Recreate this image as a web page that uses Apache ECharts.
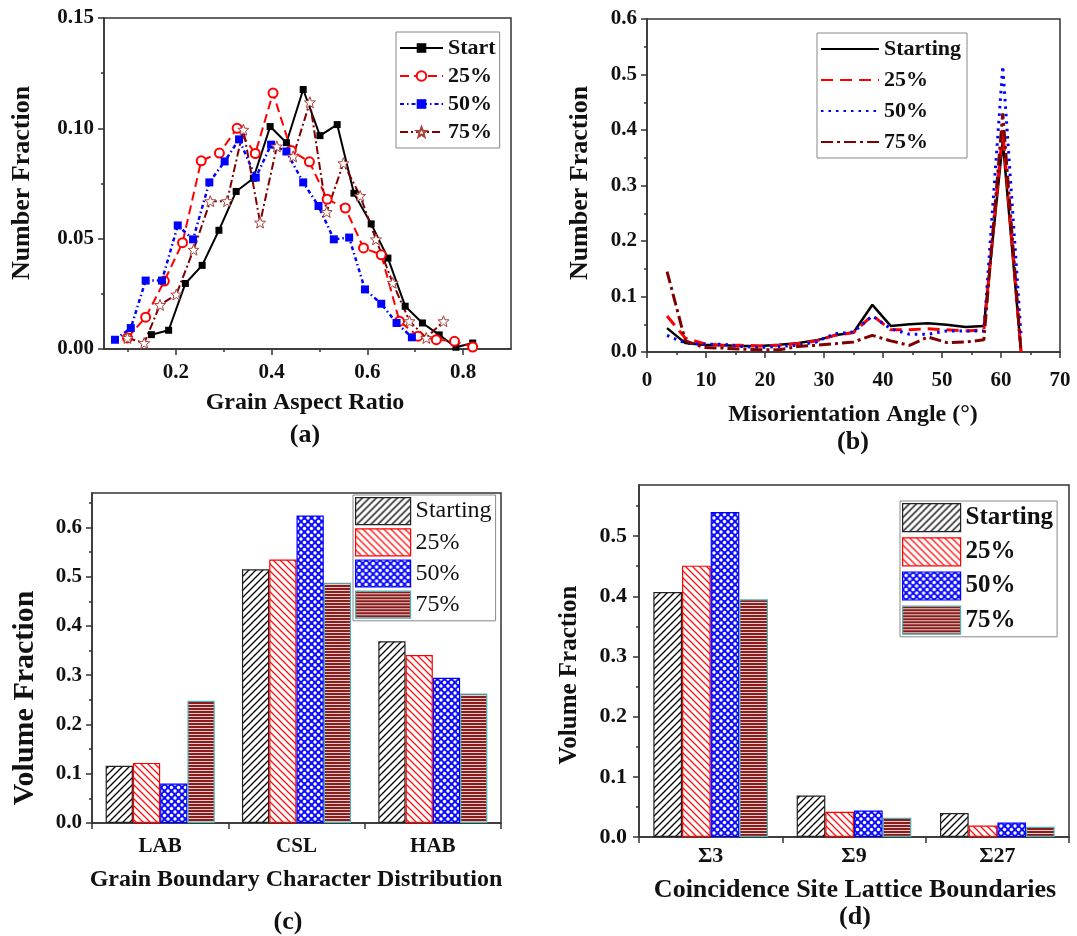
<!DOCTYPE html>
<html>
<head>
<meta charset="utf-8">
<script src="https://cdn.jsdelivr.net/npm/echarts@6/dist/echarts.min.js"></script>
<style>
  html, body { margin: 0; padding: 0; background: #fff; }
  #chart { width: 1077px; height: 936px; }
</style>
</head>
<body>
<div id="chart"></div>
<script>
// (a) grain aspect ratio
const aStartX = [0.149, 0.185, 0.220, 0.255, 0.290, 0.326, 0.362, 0.397, 0.431, 0.466, 0.501, 0.537, 0.572, 0.608, 0.643, 0.679, 0.715, 0.750, 0.785, 0.820]
const aStartY = [0.0065, 0.0085, 0.0297, 0.0379, 0.0538, 0.0714, 0.0774, 0.1008, 0.0935, 0.1176, 0.0967, 0.1017, 0.0706, 0.0567, 0.0412, 0.0194, 0.0118, 0.0064, 0.0008, 0.0027]
const a25X = [0.099, 0.137, 0.176, 0.214, 0.253, 0.291, 0.328, 0.366, 0.403, 0.441, 0.479, 0.516, 0.554, 0.592, 0.629, 0.667, 0.706, 0.744, 0.782, 0.820]
const a25Y = [0.005, 0.0144, 0.0308, 0.0482, 0.0853, 0.0888, 0.100, 0.0886, 0.116, 0.090, 0.0848, 0.0679, 0.0639, 0.0458, 0.0427, 0.0126, 0.0058, 0.0042, 0.0035, 0.0009]
const a50X = [0.073, 0.106, 0.137, 0.171, 0.204, 0.236, 0.270, 0.302, 0.332, 0.367, 0.399, 0.431, 0.466, 0.498, 0.530, 0.562, 0.595, 0.629, 0.661, 0.693]
const a50Y = [0.0042, 0.0095, 0.031, 0.031, 0.056, 0.0497, 0.0755, 0.085, 0.095, 0.0777, 0.0926, 0.0895, 0.0755, 0.0648, 0.0497, 0.0505, 0.027, 0.0205, 0.0118, 0.0053]
const a75X = [0.099, 0.134, 0.167, 0.201, 0.237, 0.272, 0.307, 0.341, 0.376, 0.411, 0.445, 0.480, 0.515, 0.550, 0.585, 0.618, 0.653, 0.688, 0.723, 0.759]
const a75Y = [0.005, 0.0027, 0.020, 0.0247, 0.045, 0.067, 0.067, 0.0994, 0.0573, 0.0918, 0.0873, 0.1118, 0.0621, 0.0842, 0.0694, 0.0497, 0.030, 0.0126, 0.005, 0.0126]

// (b) misorientation angle
const bAngle = [3.4, 6.5, 9.7, 12.9, 16.0, 19.2, 22.4, 25.5, 28.7, 31.8, 35.0, 38.2, 41.3, 44.5, 47.6, 50.8, 54.0, 57.1, 60.3, 63.4]
const bStart = [0.043, 0.016, 0.013, 0.012, 0.011, 0.011, 0.013, 0.016, 0.021, 0.030, 0.035, 0.085, 0.047, 0.050, 0.052, 0.049, 0.045, 0.047, 0.38, 0.0]
const b25 = [0.065, 0.025, 0.015, 0.012, 0.012, 0.011, 0.012, 0.015, 0.020, 0.030, 0.035, 0.066, 0.040, 0.040, 0.042, 0.040, 0.038, 0.040, 0.40, 0.0]
const b50 = [0.030, 0.016, 0.014, 0.014, 0.010, 0.008, 0.010, 0.012, 0.018, 0.033, 0.036, 0.065, 0.042, 0.032, 0.032, 0.038, 0.038, 0.038, 0.515, 0.03]
const b75 = [0.145, 0.020, 0.008, 0.007, 0.005, 0.004, 0.004, 0.010, 0.012, 0.015, 0.018, 0.030, 0.020, 0.012, 0.027, 0.017, 0.018, 0.022, 0.43, 0.0]

// (c) grain boundary character distribution
const cCats = ['LAB', 'CSL', 'HAB']
const cStart = [0.116, 0.515, 0.369]
const c25 = [0.122, 0.535, 0.341]
const c50 = [0.080, 0.6245, 0.295]
const c75 = [0.248, 0.488, 0.263]

// (d) CSL boundaries
const dCats = ['Σ3', 'Σ9', 'Σ27']
const dStart = [0.407, 0.069, 0.040]
const d25 = [0.451, 0.042, 0.019]
const d50 = [0.540, 0.044, 0.024]
const d75 = [0.395, 0.032, 0.017]

const aMajorX = [0.2, 0.4, 0.6, 0.8]
const aMinorX = [0.1, 0.3, 0.5, 0.7]
const aMajorY = [0, 0.05, 0.10, 0.15]
const aMinorY = [0.025, 0.075, 0.125]
const bMajorX = [0, 10, 20, 30, 40, 50, 60, 70]
const bMinorX = [5, 15, 25, 35, 45, 55, 65]
const bMajorY = [0, 0.1, 0.2, 0.3, 0.4, 0.5, 0.6]
const bMinorY = [0.05, 0.15, 0.25, 0.35, 0.45, 0.55]
const cMajorY = [0, 0.1, 0.2, 0.3, 0.4, 0.5, 0.6]
const cMinorY = [0.05, 0.15, 0.25, 0.35, 0.45, 0.55, 0.65]
const dMajorY = [0, 0.1, 0.2, 0.3, 0.4, 0.5]
const dMinorY = [0.05, 0.15, 0.25, 0.35, 0.45, 0.55]

const FONT = '"Liberation Serif", "Times New Roman", serif'
const AX = '#333'

function zip (xs, ys) {
  return xs.map((x, i) => [x, ys[i]])
}

function hatch (kind) {
  const cv = document.createElement('canvas')
  const s = kind === 'stripe' ? 3 : 7
  cv.width = s
  cv.height = s
  const ctx = cv.getContext('2d')
  ctx.fillStyle = '#fff'
  ctx.fillRect(0, 0, s, s)
  if (kind === 'fwd' || kind === 'back') {
    ctx.strokeStyle = kind === 'fwd' ? '#000' : '#ff1010'
    ctx.lineWidth = 1.3
    ctx.beginPath()
    if (kind === 'fwd') {
      ctx.moveTo(-1, s + 1); ctx.lineTo(s + 1, -1)
      ctx.moveTo(-2, 2); ctx.lineTo(2, -2)
      ctx.moveTo(s - 2, s + 2); ctx.lineTo(s + 2, s - 2)
    } else {
      ctx.moveTo(-1, -1); ctx.lineTo(s + 1, s + 1)
      ctx.moveTo(s - 2, -2); ctx.lineTo(s + 2, 2)
      ctx.moveTo(-2, s - 2); ctx.lineTo(2, s + 2)
    }
    ctx.stroke()
  } else if (kind === 'cross') {
    ctx.fillStyle = '#1010ff'
    ctx.fillRect(0, 0, s, s)
    ctx.fillStyle = '#fff'
    const pts = [[0, 0], [s, 0], [0, s], [s, s], [s / 2, s / 2]]
    pts.forEach(p => {
      ctx.beginPath()
      ctx.arc(p[0], p[1], 1.7, 0, Math.PI * 2)
      ctx.fill()
    })
  } else {
    ctx.fillStyle = '#8b1c1c'
    ctx.fillRect(0, 0, s, 2)
    ctx.fillStyle = '#e6cccc'
    ctx.fillRect(0, 2, s, 1)
  }
  return { image: cv, repeat: 'repeat' }
}

const fills = [
  { color: hatch('fwd'), borderColor: '#222' },
  { color: hatch('back'), borderColor: '#ff0000' },
  { color: hatch('cross'), borderColor: '#0000ff' },
  { color: hatch('stripe'), borderColor: '#4fb3b3' }
]

function valueAxes (gi, pos, min, max, major, minor, digits, fontSize, margin) {
  const base = { type: 'value', gridIndex: gi, position: pos, min: min, max: max, splitLine: { show: false } }
  const main = Object.assign({}, base, {
    axisLine: { show: true, onZero: false, lineStyle: { color: AX, width: 1.5 } },
    axisTick: { show: true, length: 6, customValues: major, lineStyle: { color: AX, width: 1.5 } },
    axisLabel: {
      customValues: major,
      formatter: v => v.toFixed(digits),
      fontFamily: FONT,
      fontWeight: 'bold',
      fontSize: fontSize,
      color: '#111',
      margin: margin
    }
  })
  const sub = Object.assign({}, base, {
    axisLine: { show: false, onZero: false },
    axisTick: { show: true, length: 3, customValues: minor, lineStyle: { color: AX, width: 1.5 } },
    axisLabel: { show: false }
  })
  return [main, sub]
}

function catAxis (gi, cats, fontSize, margin) {
  return {
    type: 'category',
    gridIndex: gi,
    position: 'bottom',
    data: cats,
    axisLine: { show: true, onZero: false, lineStyle: { color: AX, width: 1.5 } },
    axisTick: { show: true, length: 6, lineStyle: { color: AX, width: 1.5 } },
    axisLabel: { fontFamily: FONT, fontWeight: 'bold', fontSize: fontSize, color: '#111', margin: margin }
  }
}

const legendNames = {
  aS: 'Start', a25: '25%', a50: '50%', a75: '75%',
  bS: 'Starting', b25: '25%', b50: '50%', b75: '75%',
  cS: 'Starting', c25: '25%', c50: '50%', c75: '75%',
  dS: 'Starting', d25: '25%', d50: '50%', d75: '75%'
}

function barSeries (name, gi, data, k) {
  return {
    name: name,
    type: 'bar',
    xAxisIndex: gi === 2 ? 4 : 5,
    yAxisIndex: gi === 2 ? 4 : 6,
    data: data,
    barGap: '0%',
    barCategoryGap: '20%',
    itemStyle: { color: fills[k].color, borderColor: fills[k].borderColor, borderWidth: 1.2 },
    emphasis: { disabled: true }
  }
}

const star = 'path://M12,1 L14.9,8.6 L23,8.9 L16.7,14 L18.9,21.8 L12,17.3 L5.1,21.8 L7.3,14 L1,8.9 L9.1,8.6 Z'

const chart = echarts.init(document.getElementById('chart'))

const aAxesX = valueAxes(0, 'bottom', 0.05, 0.9, aMajorX, aMinorX, 1, 21, 13)
const aAxesY = valueAxes(0, 'left', 0, 0.15, aMajorY, aMinorY, 2, 21, 10)
const bAxesX = valueAxes(1, 'bottom', 0, 70, bMajorX, bMinorX, 0, 21, 18)
const bAxesY = valueAxes(1, 'left', 0, 0.6, bMajorY, bMinorY, 1, 21, 10)
const cAxesY = valueAxes(2, 'left', 0, 0.67, cMajorY, cMinorY, 1, 21, 10)
const dAxesY = valueAxes(3, 'left', 0, 0.585, dMajorY, dMinorY, 1, 22, 12)

const legendText = (bold, size) => ({
  fontFamily: FONT, fontWeight: bold ? 'bold' : 'normal', fontSize: size, color: '#111'
})

const option = {
  backgroundColor: '#fff',
  animation: false,
  grid: [
    { left: 104, top: 18, width: 407, height: 331, show: true, borderColor: AX, borderWidth: 1.5 },
    { left: 647, top: 19, width: 413, height: 333, show: true, borderColor: AX, borderWidth: 1.5 },
    { left: 92, top: 493, width: 409, height: 330, show: true, borderColor: AX, borderWidth: 1.5 },
    { left: 639, top: 485, width: 430, height: 352, show: true, borderColor: AX, borderWidth: 1.5 }
  ],
  xAxis: [aAxesX[0], aAxesX[1], bAxesX[0], bAxesX[1], catAxis(2, cCats, 21, 13), catAxis(3, dCats, 22, 8)],
  yAxis: [aAxesY[0], aAxesY[1], bAxesY[0], bAxesY[1], cAxesY[0], cAxesY[1], dAxesY[0], dAxesY[1]],
  legend: [
    {
      data: ['aS', 'a25', 'a50', 'a75'],
      orient: 'vertical', left: 396, top: 32,
      itemWidth: 43, itemHeight: 12, itemGap: 6,
      padding: [5, 4, 5, 3],
      borderColor: '#888', borderWidth: 1,
      formatter: n => legendNames[n],
      textStyle: legendText(true, 22),
      selectedMode: false
    },
    {
      data: ['bS', 'b25', 'b50', 'b75'],
      orient: 'vertical', left: 817, top: 33,
      itemWidth: 58, itemHeight: 12, itemGap: 9,
      padding: [5, 6, 5, 3],
      borderColor: '#888', borderWidth: 1,
      formatter: n => legendNames[n],
      textStyle: legendText(true, 22),
      itemStyle: { opacity: 0 },
      selectedMode: false
    },
    {
      data: ['cS', 'c25', 'c50', 'c75'],
      orient: 'vertical', left: 353, top: 495,
      icon: 'rect',
      itemWidth: 55, itemHeight: 27, itemGap: 3,
      padding: [2, 4, 2, 2],
      borderColor: '#888', borderWidth: 1,
      formatter: n => legendNames[n],
      textStyle: legendText(false, 24),
      itemStyle: { borderWidth: 1.2 },
      selectedMode: false
    },
    {
      data: ['dS', 'd25', 'd50', 'd75'],
      orient: 'vertical', left: 900, top: 501,
      icon: 'rect',
      itemWidth: 58, itemHeight: 28, itemGap: 5,
      padding: [2, 4, 2, 2],
      borderColor: '#888', borderWidth: 1,
      formatter: n => legendNames[n],
      textStyle: legendText(true, 25),
      itemStyle: { borderWidth: 1.2 },
      selectedMode: false
    }
  ],
  graphic: [
    { type: 'text', x: 22, y: 183, rotation: Math.PI / 2, style: { text: 'Number Fraction', font: 'bold 26px ' + FONT, fill: '#111', textAlign: 'center', textVerticalAlign: 'middle' } },
    { type: 'text', x: 305, y: 403, style: { text: 'Grain Aspect Ratio', font: 'bold 24px ' + FONT, fill: '#111', textAlign: 'center', textVerticalAlign: 'middle' } },
    { type: 'text', x: 305, y: 435, style: { text: '(a)', font: 'bold 26px ' + FONT, fill: '#111', textAlign: 'center', textVerticalAlign: 'middle' } },
    { type: 'text', x: 580, y: 183, rotation: Math.PI / 2, style: { text: 'Number Fraction', font: 'bold 26px ' + FONT, fill: '#111', textAlign: 'center', textVerticalAlign: 'middle' } },
    { type: 'text', x: 853, y: 415, style: { text: 'Misorientation Angle (°)', font: 'bold 24px ' + FONT, fill: '#111', textAlign: 'center', textVerticalAlign: 'middle' } },
    { type: 'text', x: 853, y: 442, style: { text: '(b)', font: 'bold 26px ' + FONT, fill: '#111', textAlign: 'center', textVerticalAlign: 'middle' } },
    { type: 'text', x: 25, y: 698, rotation: Math.PI / 2, style: { text: 'Volume Fraction', font: 'bold 30px ' + FONT, fill: '#111', textAlign: 'center', textVerticalAlign: 'middle' } },
    { type: 'text', x: 296, y: 880, style: { text: 'Grain Boundary Character Distribution', font: 'bold 24px ' + FONT, fill: '#111', textAlign: 'center', textVerticalAlign: 'middle' } },
    { type: 'text', x: 288, y: 922, style: { text: '(c)', font: 'bold 26px ' + FONT, fill: '#111', textAlign: 'center', textVerticalAlign: 'middle' } },
    { type: 'text', x: 570, y: 675, rotation: Math.PI / 2, style: { text: 'Volume Fraction', font: 'bold 25px ' + FONT, fill: '#111', textAlign: 'center', textVerticalAlign: 'middle' } },
    { type: 'text', x: 855, y: 890, style: { text: 'Coincidence Site Lattice Boundaries', font: 'bold 26px ' + FONT, fill: '#111', textAlign: 'center', textVerticalAlign: 'middle' } },
    { type: 'text', x: 855, y: 917, style: { text: '(d)', font: 'bold 26px ' + FONT, fill: '#111', textAlign: 'center', textVerticalAlign: 'middle' } }
  ],
  series: [
    {
      name: 'aS', type: 'line', xAxisIndex: 0, yAxisIndex: 0,
      data: zip(aStartX, aStartY),
      symbol: 'rect', symbolSize: 7,
      itemStyle: { color: '#000' },
      lineStyle: { color: '#000', width: 2 }
    },
    {
      name: 'a25', type: 'line', xAxisIndex: 0, yAxisIndex: 0,
      data: zip(a25X, a25Y),
      symbol: 'emptyCircle', symbolSize: 9,
      itemStyle: { color: '#ff0000', borderWidth: 1.2 },
      lineStyle: { color: '#ff0000', width: 2, type: [9, 5] }
    },
    {
      name: 'a50', type: 'line', xAxisIndex: 0, yAxisIndex: 0,
      data: zip(a50X, a50Y),
      symbol: 'rect', symbolSize: 8,
      itemStyle: { color: '#0000ff' },
      lineStyle: { color: '#0000ff', width: 2.5, type: [4, 3, 1.5, 3] }
    },
    {
      name: 'a75', type: 'line', xAxisIndex: 0, yAxisIndex: 0,
      data: zip(a75X, a75Y),
      symbol: star, symbolSize: 11,
      itemStyle: { color: '#fff', borderColor: '#a8403a', borderWidth: 1 },
      lineStyle: { color: '#800000', width: 2, type: [8, 3, 2, 3] }
    },
    {
      name: 'bS', type: 'line', xAxisIndex: 2, yAxisIndex: 2,
      data: zip(bAngle, bStart), symbol: 'none',
      itemStyle: { color: '#000' },
      lineStyle: { color: '#000', width: 2.5 }
    },
    {
      name: 'b25', type: 'line', xAxisIndex: 2, yAxisIndex: 2,
      data: zip(bAngle, b25), symbol: 'none',
      itemStyle: { color: '#ff0000' },
      lineStyle: { color: '#ff0000', width: 3, type: [12, 7] }
    },
    {
      name: 'b50', type: 'line', xAxisIndex: 2, yAxisIndex: 2,
      data: zip(bAngle, b50), symbol: 'none',
      itemStyle: { color: '#0000ff' },
      lineStyle: { color: '#0000ff', width: 3, type: [2.5, 5] }
    },
    {
      name: 'b75', type: 'line', xAxisIndex: 2, yAxisIndex: 2,
      data: zip(bAngle, b75), symbol: 'none',
      itemStyle: { color: '#800000' },
      lineStyle: { color: '#800000', width: 3, type: [12, 4, 3, 4] }
    },
    barSeries('cS', 2, cStart, 0),
    barSeries('c25', 2, c25, 1),
    barSeries('c50', 2, c50, 2),
    barSeries('c75', 2, c75, 3),
    barSeries('dS', 3, dStart, 0),
    barSeries('d25', 3, d25, 1),
    barSeries('d50', 3, d50, 2),
    barSeries('d75', 3, d75, 3)
  ]
}

chart.setOption(option)
</script>
</body>
</html>
